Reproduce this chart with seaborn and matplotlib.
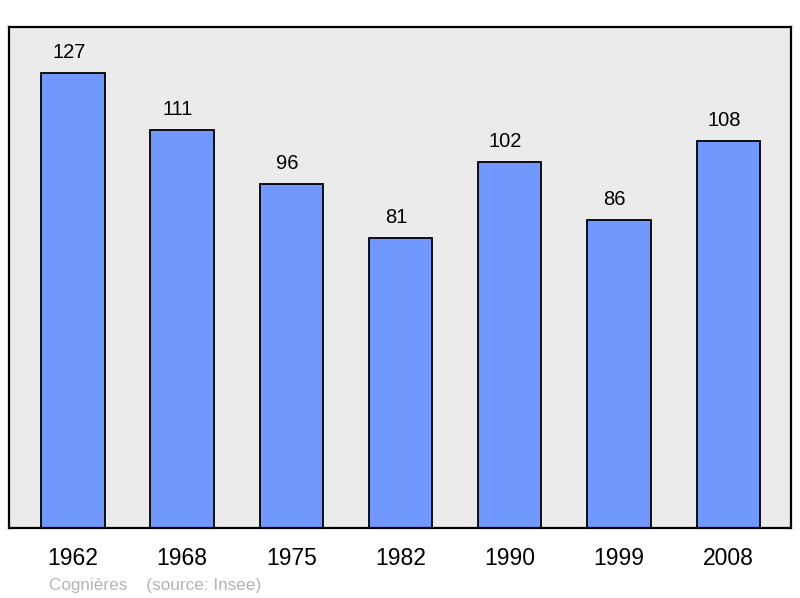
import matplotlib.pyplot as plt
import pandas as pd
import seaborn as sns

years = ["1962", "1968", "1975", "1982", "1990", "1999", "2008"]
population = [127, 111, 96, 81, 102, 86, 108]
source_note = "Cognières    (source: Insee)"

df = pd.DataFrame({"year": years, "population": population})

sns.set_style("white")
plt.rcParams["font.family"] = ["Liberation Sans", "DejaVu Sans"]
plt.rcParams["text.color"] = "black"
plt.rcParams["xtick.color"] = "black"

fig = plt.figure(figsize=(8, 5.98), dpi=100)
ax = fig.add_axes([9 / 800, 1 - 528 / 598, 782 / 800, 501 / 598])
ax.set_facecolor("#ebebeb")

sns.barplot(data=df, x="year", y="population", color="#7098ff", saturation=1,
            width=0.58, edgecolor="black", linewidth=1.3, ax=ax)

# value labels sit a bit left of the bar centre, as in the original
for i, v in enumerate(population):
    ax.annotate(str(v), (i, v), xytext=(-3, 8), textcoords="offset points",
                ha="center", va="bottom", fontsize=14.5, color="black")

ax.set_xlim(-0.585, 6.575)
ax.set_ylim(0, 139.8)
ax.set_xlabel("")
ax.set_ylabel("")
ax.set_yticks([])
ax.tick_params(axis="x", length=0, pad=14, labelsize=16.5, labelcolor="black")
for s in ax.spines.values():
    s.set_visible(True)
    s.set_color("black")
    s.set_linewidth(1.6)

fig.text(49 / 800, 1 - 590 / 598, source_note, color="#b4b4b4", fontsize=12.3,
         va="baseline")

fig.savefig("out.png", dpi=100)
